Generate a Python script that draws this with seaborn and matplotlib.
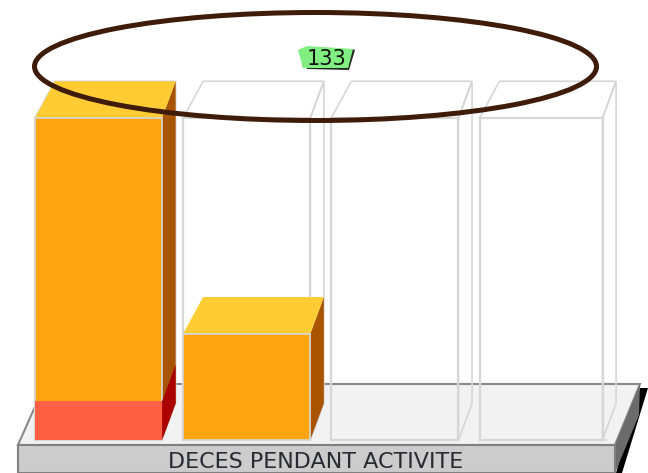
import matplotlib
matplotlib.use("Agg")
import matplotlib.pyplot as plt
from matplotlib.patches import Ellipse, Polygon
from matplotlib.transforms import Affine2D
import pandas as pd
import seaborn as sns

slots = ["1", "2", "3", "4"]
frame_values = [100, 100, 100, 100]
total_values = [100, 33, 0, 0]
red_values = [12, 0, 0, 0]
total_label = "133"
axis_label = "DECES PENDANT ACTIVITE"

W, H = 648, 473
ORANGE = "#FFA512"
ORANGE_TOP = "#FFCC33"
ORANGE_SIDE = "#A85400"
RED = "#FF6043"
RED_SIDE = "#AA0000"
FRAME = "#D6D6D6"
BAR_W = 0.858
LAST_W = 0.83  # the last frame is a bit narrower in the original
DX = 0.0915  # depth of the fake 3d, in data units
DX_LEFT = 0.135  # left edge of the top face leans further
DY = 11.4

sns.set_theme(style="white")
fig = plt.figure(figsize=(W / 100, H / 100), dpi=100)
ax = fig.add_axes([0, 0, 1, 1])
# decorations are placed in image pixels, origin top left
px = Affine2D().scale(1, -1).translate(0, H)


def deco(points, color, zorder=0.5, **kw):
    ax.add_patch(Polygon(points, closed=True, facecolor=color, transform=px, zorder=zorder, **kw))


# platform
deco([(640, 388), (648, 388), (622, 473), (616, 473)], "black", lw=0)
deco([(18, 445), (45, 384), (640, 384), (615, 445)], "#F2F2F2", edgecolor="#8A8A8A", lw=1.5)
deco([(615, 445), (640, 384), (639, 415), (615, 473)], "#6B6B6B", lw=0)
deco([(18, 445), (615, 445), (615, 473), (18, 473)], "#CCCCCC", edgecolor="#808080", lw=1.5)

df = pd.DataFrame({"slot": slots, "frame": frame_values, "total": total_values, "red": red_values})

sns.barplot(data=df, x="slot", y="frame", width=BAR_W, fill=False, color=FRAME, linewidth=1.6, ax=ax, zorder=2)
ax.containers[0][3].set_width(LAST_W)
sns.barplot(data=df, x="slot", y="total", width=BAR_W, color=ORANGE, saturation=1, edgecolor=FRAME, linewidth=1.2, ax=ax, zorder=3)
sns.barplot(data=df, x="slot", y="red", width=BAR_W, color=RED, saturation=1, linewidth=0, ax=ax, zorder=4)


def top_and_side(i, low, high, top_color, side_color, edge, zorder, width=BAR_W):
    left, right = i - BAR_W / 2, i - BAR_W / 2 + width
    side = [(right, low), (right + DX, low + DY), (right + DX, high + DY), (right, high)]
    ax.add_patch(Polygon(side, closed=True, facecolor=side_color, edgecolor=edge, lw=1.2, zorder=zorder))
    if top_color is not None:
        top = [(left, high), (left + DX_LEFT, high + DY), (right + DX, high + DY), (right, high)]
        ax.add_patch(Polygon(top, closed=True, facecolor=top_color, edgecolor=edge, lw=1.2, zorder=zorder))


for i in range(len(slots)):
    frame_w = LAST_W if i == len(slots) - 1 else BAR_W
    top_and_side(i, 0, frame_values[i], "none", "none", FRAME, 1.5, width=frame_w)
    if total_values[i] > 0:
        top_and_side(i, 0, total_values[i], ORANGE_TOP, ORANGE_SIDE, "none", 2.5)
    if red_values[i] > 0:
        top_and_side(i, 0, red_values[i], None, RED_SIDE, "none", 3.5)

# same pixel mapping as the reference: slot 0 centre at x=98.5, value 0 at y=440, 100 at y=118
ax.set_xlim(-98.5 / 148.2, (W - 98.5) / 148.2)
ax.set_ylim((440 - H) / 3.22, 440 / 3.22)
ax.axis("off")

ax.text(316, 462, axis_label, transform=px, ha="center", va="center", fontsize=16, color="#2A2A33", zorder=6)

# value tag with its dark shadow
deco([(300, 52), (307, 69), (349, 70), (355, 50), (352, 49), (348, 68), (303, 68)], "#1E2A1E", zorder=6, lw=0)
deco([(298, 50), (307, 46), (353, 49), (348, 68), (303, 68)], "#80EE80", zorder=6, lw=0)
ax.text(327, 59, total_label, transform=px, ha="center", va="center", fontsize=15, color="#111111", zorder=7)

ax.add_patch(Ellipse((315.5, 66.5), 562, 108, fill=False, edgecolor="#3F1C0A", lw=3.6, transform=px, zorder=8))

fig.savefig("out.png", dpi=100)
